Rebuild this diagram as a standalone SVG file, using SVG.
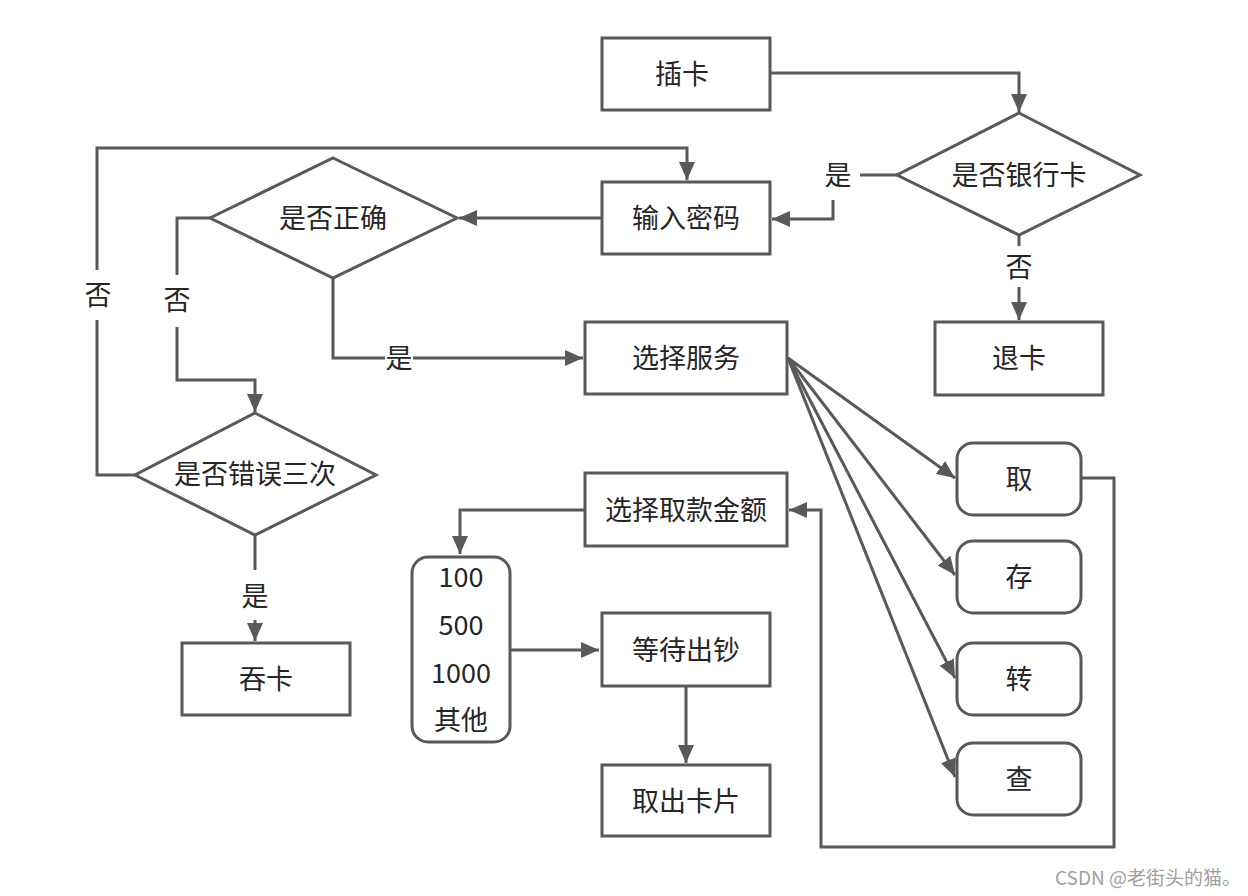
<svg xmlns="http://www.w3.org/2000/svg" width="1248" height="896" viewBox="0 0 1248 896">
<style>
.n{fill:#fff;stroke:#595959;stroke-width:3}
.c{fill:none;stroke:#595959;stroke-width:3;stroke-linejoin:miter}
text{font-family:"Noto Sans CJK SC","Noto Sans",sans-serif;font-size:27px;fill:#262626;text-anchor:middle;dominant-baseline:central}
.w{font-size:19px;fill:#a0a0a0;text-anchor:start}
</style>
<defs>
<marker id="a" markerUnits="userSpaceOnUse" markerWidth="20" markerHeight="20" viewBox="0 0 20 20" refX="18" refY="10" orient="auto">
<path d="M0,2 L18,10 L0,18 z" fill="#595959"/>
</marker>
</defs>
<rect width="1248" height="896" fill="#fff"/>
<g id="connectors">
<path class="c" d="M770,73 H1019 V112" marker-end="url(#a)"/>
<path class="c" d="M897,175 H860"/>
<path class="c" d="M833,200 V219 H772" marker-end="url(#a)"/>
<path class="c" d="M1019,235 V246"/>
<path class="c" d="M1019,287 V320" marker-end="url(#a)"/>
<path class="c" d="M601,218 H459" marker-end="url(#a)"/>
<path class="c" d="M210,218 H177 V275"/>
<path class="c" d="M177,327 V380 H255 V412" marker-end="url(#a)"/>
<path class="c" d="M333,278 V358 H385"/>
<path class="c" d="M413,358 H583" marker-end="url(#a)"/>
<path class="c" d="M135,475 H97 V320"/>
<path class="c" d="M97,270 V148 H687 V180" marker-end="url(#a)"/>
<path class="c" d="M255,535 V570"/>
<path class="c" d="M255,620 V641" marker-end="url(#a)"/>
<path class="c" d="M788,358 L955,478" marker-end="url(#a)"/>
<path class="c" d="M788,358 L955,575" marker-end="url(#a)"/>
<path class="c" d="M788,358 L955,678" marker-end="url(#a)"/>
<path class="c" d="M788,358 L955,777" marker-end="url(#a)"/>
<path class="c" d="M1082,478 H1114 V847 H821 V510 H789" marker-end="url(#a)"/>
<path class="c" d="M584,510 H460 V554" marker-end="url(#a)"/>
<path class="c" d="M510,650 H599" marker-end="url(#a)"/>
<path class="c" d="M686,686 V763" marker-end="url(#a)"/>
<text x="838" y="173">是</text>
<text x="1019" y="265">否</text>
<text x="177" y="298">否</text>
<text x="399" y="356">是</text>
<text x="98" y="293">否</text>
<text x="255" y="594">是</text>
</g>
<g id="insert"><rect class="n" x="602" y="38" width="168" height="72"/><text x="682" y="72">插卡</text></g>
<g id="isBankCard"><polygon class="n" points="1019,113 1140,175 1019,235 897,175"/><text x="1019" y="173">是否银行卡</text></g>
<g id="password"><rect class="n" x="602" y="182" width="168" height="72"/><text x="686" y="216">输入密码</text></g>
<g id="ejectCard"><rect class="n" x="935" y="322" width="168" height="73"/><text x="1019" y="356">退卡</text></g>
<g id="isCorrect"><polygon class="n" points="333,158 457,218 333,278 210,218"/><text x="333" y="216">是否正确</text></g>
<g id="selectService"><rect class="n" x="585" y="322" width="202" height="72"/><text x="686" y="356">选择服务</text></g>
<g id="wrongThrice"><polygon class="n" points="255,413 376,475 255,535 135,475"/><text x="255" y="472">是否错误三次</text></g>
<g id="swallowCard"><rect class="n" x="182" y="643" width="168" height="72"/><text x="266" y="677">吞卡</text></g>
<g id="withdraw"><rect class="n" x="957" y="443" width="124" height="72" rx="16"/><text x="1019" y="477">取</text></g>
<g id="deposit"><rect class="n" x="957" y="541" width="124" height="72" rx="16"/><text x="1019" y="575">存</text></g>
<g id="transfer"><rect class="n" x="957" y="643" width="124" height="72" rx="16"/><text x="1019" y="677">转</text></g>
<g id="query"><rect class="n" x="957" y="743" width="124" height="72" rx="16"/><text x="1019" y="777">查</text></g>
<g id="selectAmount"><rect class="n" x="585" y="473" width="202" height="73"/><text x="686" y="508">选择取款金额</text></g>
<g id="amounts"><rect class="n" x="412" y="557" width="98" height="185" rx="16"/><text x="461" y="575">100</text><text x="461" y="623">500</text><text x="461" y="671">1000</text><text x="461" y="718">其他</text></g>
<g id="waitCash"><rect class="n" x="602" y="613" width="168" height="73"/><text x="686" y="648">等待出钞</text></g>
<g id="takeCard"><rect class="n" x="602" y="765" width="168" height="71"/><text x="686" y="799">取出卡片</text></g>
<text class="w" x="1055" y="876">CSDN @老街头的猫。</text>
</svg>
